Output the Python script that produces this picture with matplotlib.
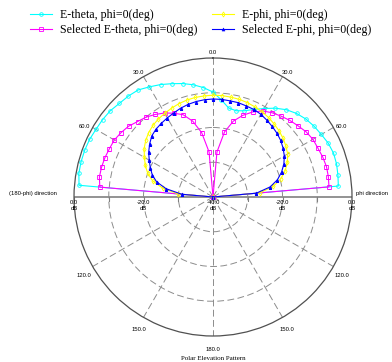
import numpy as np
import matplotlib
matplotlib.use("Agg")
import matplotlib.pyplot as plt

# Elevation angle (deg), measured from zenith, phi side positive
theta_deg = np.arange(-90, 91, 5)

# Far-field gain (dB), phi = 0 cut
e_theta = [-40, -1.3, -0.8, -0.7, -0.7, -0.8, -1.1, -1.2, -1.4, -1.9,
           -2.1, -2.4, -3.4, -4.3, -5.3, -6.2, -7.2, -8.4, -9.8,
           -12.0, -14.0, -14.3, -13.6, -12.2, -10.6, -8.8, -7.2, -6.0,
           -5.1, -4.5, -4.0, -3.4, -3.1, -3.2, -3.5, -3.8, -40]
sel_e_theta = [-40, -7.3, -6.8, -6.8, -6.9, -7.1, -7.2, -7.7, -8.3, -9.3,
               -10.0, -11.0, -12.1, -13.4, -14.8, -17.4, -21.2, -27.0, -40,
               -27.0, -21.0, -17.4, -15.0, -13.0, -11.4, -10.4, -9.6, -8.8,
               -8.1, -7.3, -6.8, -6.7, -6.4, -6.2, -6.3, -6.5, -40]
e_phi = [-40, -30.0, -25.3, -22.0, -20.0, -18.5, -17.2, -15.8, -14.7, -13.8,
         -13.1, -12.6, -12.2, -11.8, -11.4, -11.1, -10.9, -10.8, -10.7,
         -10.7, -10.8, -10.9, -11.1, -11.4, -11.7, -12.1, -12.6, -13.1,
         -13.7, -14.4, -15.2, -16.4, -17.9, -19.8, -22.4, -26.5, -40]
sel_e_phi = [-40, -31.0, -26.3, -23.2, -21.4, -20.1, -18.8, -17.4, -16.2, -15.1,
             -14.5, -14.1, -13.7, -13.3, -12.8, -12.4, -12.1, -11.9, -11.8,
             -11.8, -11.9, -11.9, -12.1, -12.2, -12.5, -13.0, -13.5, -14.0,
             -14.6, -15.4, -16.3, -17.5, -19.0, -20.8, -23.3, -27.5, -40]

grid_angles = [0, 30, 60, 120, 150, 180, 210, 240, 300, 330]
grid_labels = ["0.0", "30.0", "60.0", "120.0", "150.0", "180.0",
               "150.0", "120.0", "60.0", "30.0"]
db_ticks = [0, -10, -20, -30, -40]

small = {"family": "Liberation Sans", "size": 4.2}
PX = 0.72  # points per pixel at 100 dpi

fig = plt.figure(figsize=(3.92, 3.62), dpi=100)
ax = fig.add_axes([0.1888, 0.0718, 0.7092, 0.768], projection="polar")
ax.set_theta_zero_location("N")
ax.set_theta_direction(-1)
ax.set_rlim(-40, 0)
ax.set_rticks([-30, -20, -10])
ax.set_yticklabels([])
ax.set_thetagrids(grid_angles, labels=[""] * len(grid_angles))
ax.grid(True, color="#8c8c8c", linestyle=(0, (7, 3.5)), linewidth=0.7)
ax.spines["polar"].set_color("#505050")
ax.spines["polar"].set_linewidth(0.9)

# angle labels just outside the rim, nudged down a little
for ang, txt in zip(grid_angles, grid_labels):
    a = np.radians(ang)
    dx = 9.5 * np.sin(a) * PX
    dy = (9 * np.cos(a) - 4) * PX
    ax.annotate(txt, xy=(a, 0), xytext=(dx, dy), textcoords="offset points",
                ha="center", va="center", annotation_clip=False, **small)

th = np.radians(theta_deg)
ax.plot(th, e_theta, color="#00ffff", lw=0.8, marker="o", ms=2.6,
        mfc="none", mew=0.6, label="E-theta, phi=0(deg)")
ax.plot(th, sel_e_theta, color="#ff00ff", lw=0.8, marker="s", ms=2.8,
        mfc="none", mew=0.6, label="Selected E-theta, phi=0(deg)")
ax.plot(th, e_phi, color="#ffff00", lw=0.8, marker="d", ms=2.6,
        mfc="none", mew=0.6, label="E-phi, phi=0(deg)")
ax.plot(th, sel_e_phi, color="#0000ff", lw=0.8, marker="^", ms=2.2,
        mew=0.4, label="Selected E-phi, phi=0(deg)")

# horizontal axis (90 deg line) with dB ticks
ax.plot(np.radians([90, -90]), [0, 0], color="#808080", lw=1.2, zorder=1)
for side in (90, -90):
    ax.plot(np.radians([side] * len(db_ticks)), db_ticks, ls="none",
            marker=3, ms=3, color="#808080", mew=0.8)

for side, vals in ((90, [0, -20, -40]), (-90, [0, -20])):
    for r in vals:
        ax.annotate(f"{r:.1f}\ndB", xy=(np.radians(side), r), xytext=(0, -2.5),
                    textcoords="offset points", ha="center", va="top",
                    linespacing=1.2, annotation_clip=False, **small)

ax.annotate("phi direction", xy=(np.radians(90), 0), xytext=(3, 2.5),
            textcoords="offset points", ha="left", va="center",
            annotation_clip=False, **small)
ax.annotate("(180-phi) direction", xy=(np.radians(-90), 0), xytext=(-12, 2.5),
            textcoords="offset points", ha="right", va="center",
            annotation_clip=False, **small)

# two single-column legends so each column sits where it should
lines = ax.get_lines()[:4]
leg_kw = dict(loc="upper left", frameon=False,
              prop={"family": "Liberation Serif", "size": 8.6},
              handlelength=1.8, handletextpad=0.75, borderpad=0,
              borderaxespad=0, labelspacing=0.25)
fig.legend(lines[:2], [l.get_label() for l in lines[:2]],
           bbox_to_anchor=(30 / 392, 1 - 9 / 362), **leg_kw)
fig.legend(lines[2:], [l.get_label() for l in lines[2:]],
           bbox_to_anchor=(212 / 392, 1 - 9 / 362), **leg_kw)

fig.text(213 / 392, 4 / 362, "Polar Elevation Pattern", ha="center",
         va="center", family="Liberation Serif", fontsize=5)

fig.savefig("out.png", dpi=100)
